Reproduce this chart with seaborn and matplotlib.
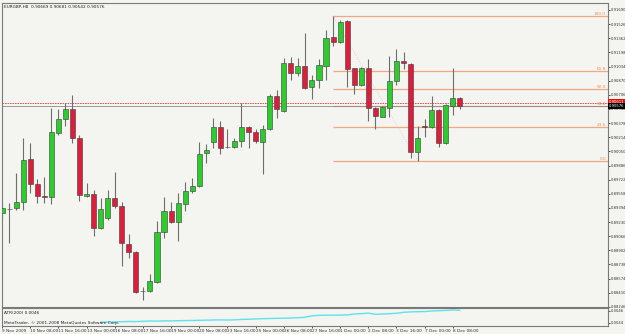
import numpy as np
import pandas as pd
import matplotlib
matplotlib.use("Agg")
import matplotlib.pyplot as plt
import matplotlib.transforms as mtransforms
from matplotlib import font_manager
import seaborn as sns

# ---------------- data ----------------
symbol = "EURGBP,H8"
opens = [0.89335, 0.89382, 0.89393, 0.89463, 0.89962, 0.89672, 0.89532, 0.89521, 0.90263, 0.90426,
         0.90542, 0.90205, 0.89532, 0.89556, 0.89161, 0.89277, 0.89509, 0.89416, 0.88976, 0.88884,
         0.88430, 0.88430, 0.88535, 0.89115, 0.89358, 0.89231, 0.89440, 0.89590, 0.89648, 0.90031,
         0.90159, 0.90333, 0.90101, 0.90101, 0.90170, 0.90333, 0.90275, 0.90159, 0.90310, 0.90692,
         0.90518, 0.91075, 0.90959, 0.91040, 0.90797, 0.90878, 0.91040, 0.91377, 0.91319, 0.91562,
         0.91017, 0.90820, 0.91017, 0.90553, 0.90449, 0.90553, 0.90866, 0.91098, 0.91064, 0.90043,
         0.90344, 0.90333, 0.90530, 0.90147, 0.90576, 0.90669]
highs = [0.89463, 0.89451, 0.89799, 0.90205, 0.90147, 0.89730, 0.89753, 0.90553, 0.90542, 0.90611,
         0.90704, 0.90240, 0.89683, 0.89602, 0.89509, 0.89602, 0.89811, 0.89463, 0.89092, 0.88895,
         0.88477, 0.88628, 0.89242, 0.89521, 0.89463, 0.89567, 0.89695, 0.89741, 0.90159, 0.90136,
         0.90437, 0.90402, 0.90310, 0.90205, 0.90611, 0.90344, 0.90310, 0.90356, 0.90716, 0.90762,
         0.91133, 0.91145, 0.91133, 0.91423, 0.90936, 0.91122, 0.91458, 0.91620, 0.91574, 0.91574,
         0.91017, 0.91029, 0.91122, 0.90565, 0.90576, 0.91156, 0.91238, 0.91203, 0.91075, 0.90344,
         0.90426, 0.90692, 0.90542, 0.90600, 0.91017, 0.90681]
lows = [0.89254, 0.88988, 0.89370, 0.89370, 0.89567, 0.89451, 0.89451, 0.89440, 0.90240, 0.90344,
        0.90147, 0.89474, 0.89521, 0.89069, 0.89150, 0.89254, 0.89393, 0.88720, 0.88813, 0.88408,
        0.88326, 0.88419, 0.88524, 0.89046, 0.89219, 0.89011, 0.89358, 0.89567, 0.89637, 0.89915,
        0.90089, 0.90020, 0.90089, 0.90089, 0.90101, 0.90089, 0.90147, 0.89788, 0.90298, 0.90437,
        0.90507, 0.90878, 0.90924, 0.90774, 0.90658, 0.90785, 0.90878, 0.91272, 0.91307, 0.90797,
        0.90716, 0.90808, 0.90402, 0.90310, 0.90449, 0.90449, 0.90820, 0.91006, 0.89973, 0.89938,
        0.90217, 0.90321, 0.90101, 0.90136, 0.90472, 0.90542]
closes = [0.89393, 0.89380, 0.89463, 0.89950, 0.89672, 0.89532, 0.89521, 0.90275, 0.90426, 0.90542,
          0.90205, 0.89544, 0.89556, 0.89161, 0.89382, 0.89509, 0.89416, 0.88988, 0.88884, 0.88419,
          0.88432, 0.88546, 0.89115, 0.89358, 0.89231, 0.89451, 0.89590, 0.89648, 0.90020, 0.90066,
          0.90333, 0.90089, 0.90099, 0.90170, 0.90333, 0.90275, 0.90170, 0.90310, 0.90692, 0.90542,
          0.91075, 0.90959, 0.91040, 0.90785, 0.90878, 0.91052, 0.91365, 0.91319, 0.91551, 0.91006,
          0.90820, 0.91017, 0.90553, 0.90460, 0.90565, 0.90866, 0.91098, 0.91075, 0.90043, 0.90205,
          0.90333, 0.90530, 0.90147, 0.90588, 0.90669, 0.90576]

time_label_bars = [0, 4, 8, 12, 16, 20, 24, 28, 32, 36, 40, 44, 48, 52, 56, 60, 64]
time_labels = ["9 Nov 2009", "10 Nov 08:00", "11 Nov 16:00", "13 Nov 00:00", "16 Nov 08:00",
               "17 Nov 16:00", "19 Nov 00:00", "20 Nov 08:00", "23 Nov 16:00", "25 Nov 00:00",
               "26 Nov 08:00", "27 Nov 16:00", "1 Dec 00:00", "2 Dec 08:00", "3 Dec 16:00",
               "7 Dec 00:00", "8 Dec 08:00"]

price_ticks = [0.91690, 0.91526, 0.91362, 0.91198, 0.91034, 0.90870, 0.90706, 0.90542, 0.90378,
               0.90214, 0.90050, 0.89886, 0.89722, 0.89558, 0.89394, 0.89230, 0.89066, 0.88902,
               0.88738, 0.88574, 0.88410, 0.88246]

atr_start_bar = 14
atr_values = [0.004417, 0.004415, 0.004418, 0.004422, 0.004425, 0.004424, 0.004428,
              0.004433, 0.004432, 0.004435, 0.004436, 0.004438, 0.004440, 0.004442,
              0.004445, 0.004447, 0.004450, 0.004452, 0.004450, 0.004452, 0.004460,
              0.004462, 0.004468, 0.004472, 0.004475, 0.004478, 0.004480, 0.004483,
              0.004488, 0.004495, 0.004520, 0.004528, 0.004530, 0.004530, 0.004532,
              0.004535, 0.004550, 0.004555, 0.004565, 0.004545, 0.004550, 0.004555,
              0.004562, 0.004578, 0.004585, 0.004588, 0.004590, 0.004600, 0.004605,
              0.004610, 0.004618, 0.004612]
atr_ticks = [0.0046, 0.0044]

fib_levels = [0.0, 23.6, 38.2, 50.0, 61.8, 100.0]
fib_high_bar = 47
fib_low_bar = 59
hline_price = 0.90611

# ---------------- style ----------------
sns.set_style("white")
installed = {f.name for f in font_manager.fontManager.ttflist}
fam = ['Liberation Sans Narrow', 'DejaVu Sans'] if 'Liberation Sans Narrow' in installed else ['DejaVu Sans']
plt.rcParams['font.family'] = fam
narrow = fam[0] == 'Liberation Sans Narrow'
BG = '#f4f4f0'
GREEN = '#2ecb2e'
RED = '#dc1e3c'
WICK = '#6e6e6e'
FIB = '#f0a884'
FS = 3.8 if narrow else 3.1
FSR = 3.3 if narrow else 2.7

df = pd.DataFrame({"bar": np.arange(len(opens)), "open": opens, "high": highs,
                   "low": lows, "close": closes})
atr_df = pd.DataFrame({"bar": np.arange(atr_start_bar, atr_start_bar + len(atr_values)),
                       "atr": atr_values})

fig = plt.figure(figsize=(6.25, 3.34), dpi=100, facecolor=BG)
ax = fig.add_axes([2 / 625, 1 - 307 / 334, 606 / 625, 304 / 334], facecolor=BG)
ax2 = fig.add_axes([2 / 625, 1 - 326 / 334, 606 / 625, 18 / 334], facecolor=BG, sharex=ax)

xmin, xmax = 0.07, 86.03
ax.set_xlim(xmin, xmax)
ax.set_ylim(0.88245, 0.91771)

# candles
up = df["close"] >= df["open"]
colors = np.where(up, GREEN, RED)
ax.vlines(df["bar"], df["low"], df["high"], color=WICK, lw=0.8, zorder=2)
body_bottom = np.minimum(df["open"], df["close"])
body_h = np.maximum(np.abs(df["close"] - df["open"]), 0.00002)
ax.bar(df["bar"], body_h, bottom=body_bottom, width=0.72, color=colors,
       edgecolor='#3c3c3c', linewidth=0.4, zorder=3)

# fibonacci
f_hi = df.loc[fib_high_bar, "high"]
f_lo = df.loc[fib_low_bar, "low"]
for lvl in fib_levels:
    p = f_lo + (f_hi - f_lo) * lvl / 100.0
    ax.hlines(p, fib_high_bar, xmax, color=FIB, lw=0.9, zorder=1)
    ax.text(xmax - 0.3, p, f"{lvl:.1f}", ha='right', va='bottom', fontsize=FS,
            color='#e8905c', zorder=4)
ax.plot([fib_high_bar, fib_low_bar], [f_hi, f_lo], ls=(0, (1, 2)), color='#e6c2b2', lw=0.6, zorder=1)

# horizontal line and bid line
last_close = closes[-1]
ax.axhline(hline_price, color='#e04040', lw=0.6, ls=(0, (2, 1)), zorder=1)
ax.axhline(last_close, color='#8a8a8a', lw=0.6, zorder=1)

# right axis
for a in (ax, ax2):
    a.yaxis.tick_right()
    for s in a.spines.values():
        s.set_color('#7a7a7a')
        s.set_linewidth(0.8)
ax.set_yticks(price_ticks)
ax.set_yticklabels([f"{v:.5f}" for v in price_ticks])
ax.tick_params(axis='y', labelsize=FSR, length=1.5, width=0.6, pad=0.6, colors='#333333')
ax.tick_params(axis='x', bottom=False, labelbottom=False)

blend = mtransforms.blended_transform_factory(ax.transAxes, ax.transData)
ax.text(1.0015, hline_price + 0.00012, f"{hline_price:.5f}", transform=blend, ha='left', va='center',
        fontsize=FSR, color='white', bbox=dict(boxstyle='square,pad=0.15', fc='#e01010', ec='none'),
        clip_on=False, zorder=6)
ax.text(1.0015, last_close, f"{last_close:.5f}", transform=blend, ha='left', va='center',
        fontsize=FSR, color='white', bbox=dict(boxstyle='square,pad=0.15', fc='black', ec='none'),
        clip_on=False, zorder=7)

ax.text(0.003, 0.995, f"{symbol}  {opens[-1]:.5f} {highs[-1]:.5f} {lows[-1]:.5f} {closes[-1]:.5f}",
        transform=ax.transAxes, ha='left', va='top', fontsize=FS, color='#222222')

# ATR panel
sns.lineplot(data=atr_df, x="bar", y="atr", ax=ax2, color='#5fe3ee', lw=1.0)
ax2.set_ylim(0.00435, 0.00465)
ax2.set_yticks(atr_ticks)
ax2.set_yticklabels([f"{v:.4f}" for v in atr_ticks])
ax2.tick_params(axis='y', labelsize=FSR, length=1.5, width=0.6, pad=0.6, colors='#333333')
ax2.set_xlabel("")
ax2.set_ylabel("")
ax2.set_xticks(time_label_bars)
ax2.set_xticklabels(time_labels, ha='left')
ax2.tick_params(axis='x', labelsize=FS, length=1.5, width=0.6, pad=0.8, colors='#333333', bottom=True)
ax2.text(0.003, 0.85, f"ATR(200) {atr_values[-1]:.4f}", transform=ax2.transAxes, ha='left',
         va='top', fontsize=FS, color='#222222')
ax2.text(0.003, 0.05, "MetaTrader, \u00a9 2001-2008 MetaQuotes Software Corp.", transform=ax2.transAxes,
         ha='left', va='bottom', fontsize=FS, color='#222222')

fig.savefig("out.png", dpi=100, facecolor=BG)
